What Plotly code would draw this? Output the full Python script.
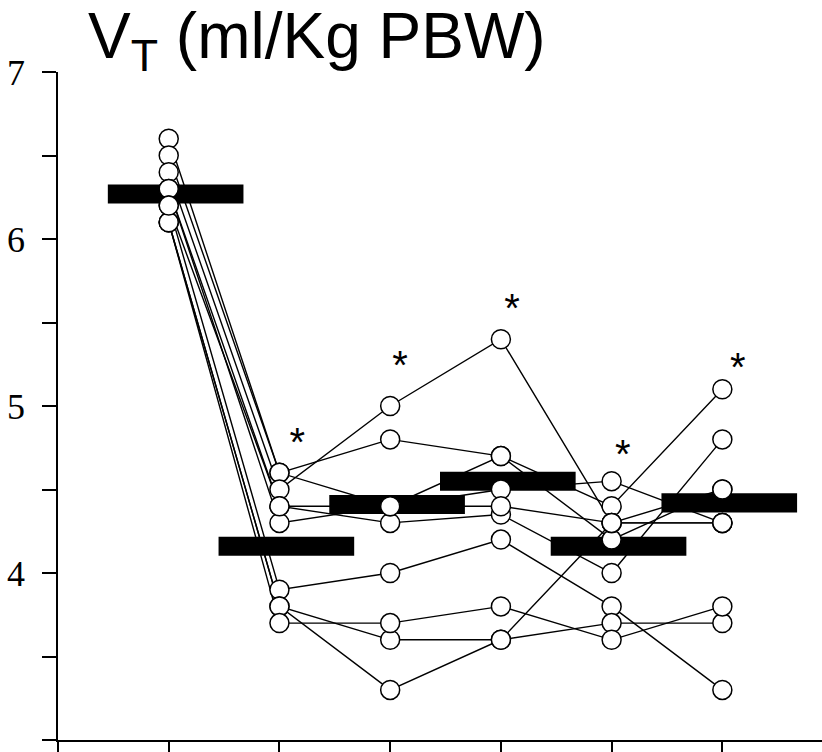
import plotly.graph_objects as go

# time points (x categories)
timepoints = [1, 2, 3, 4, 5, 6]

# individual subjects, V_T (ml/Kg PBW) at each time point
s01 = [6.6, 4.6, 4.8, 4.7, 4.4, 5.1]
s02 = [6.5, 4.6, 4.4, 4.5, 4.55, 4.3]
s03 = [6.4, 4.5, 5.0, 5.4, 4.3, 4.5]
s04 = [6.3, 4.4, 4.3, 4.35, 4.0, 4.8]
s05 = [6.3, 4.3, 4.4, 4.7, 4.2, 4.5]
s06 = [6.2, 3.9, 4.0, 4.2, 3.8, 3.3]
s07 = [6.1, 3.8, 3.6, 3.6, 4.3, 4.3]
s08 = [6.1, 3.8, 3.3, 3.6, 3.7, 3.7]
s09 = [6.1, 3.7, 3.7, 3.8, 3.6, 3.8]
s10 = [6.2, 4.4, 4.4, 4.4, 4.3, 4.3]
subjects = [s01, s02, s03, s04, s05, s06, s07, s08, s09, s10]

# group mean values (black bars)
means = [6.27, 4.16, 4.41, 4.55, 4.16, 4.42]

# significance marks
star_x = [2.16, 3.09, 4.10, 5.10, 6.14]
star_y = [4.76, 5.22, 5.56, 4.69, 5.21]
star_text = ["*", "*", "*", "*", "*"]

fig = go.Figure()

# subject lines
for s in subjects:
    fig.add_trace(go.Scatter(x=timepoints, y=s, mode="lines",
                             line=dict(color="black", width=1.4),
                             hoverinfo="skip", showlegend=False))

# mean bars as filled rectangles
half_h = 0.057
for t, m in zip(timepoints, means):
    x0, x1 = t - 0.55, t + 0.675
    fig.add_trace(go.Scatter(x=[x0, x1, x1, x0, x0],
                             y=[m - half_h, m - half_h, m + half_h, m + half_h, m - half_h],
                             mode="lines", fill="toself", fillcolor="black",
                             line=dict(color="black", width=0),
                             hoverinfo="skip", showlegend=False))

# subject markers
for s in subjects:
    fig.add_trace(go.Scatter(x=timepoints, y=s, mode="markers",
                             marker=dict(symbol="circle", size=19, color="white",
                                         line=dict(color="black", width=1.5)),
                             hoverinfo="skip", showlegend=False))

# stars
fig.add_trace(go.Scatter(x=star_x, y=star_y, mode="text", text=star_text,
                         textposition="middle center",
                         textfont=dict(family="Liberation Sans, Arial", size=40, color="black"),
                         hoverinfo="skip", showlegend=False))

fig.add_annotation(text="V<sub>T</sub> (ml/Kg PBW)", xref="paper", yref="paper",
                   x=0.036, y=1.0, xanchor="left", yanchor="bottom", showarrow=False,
                   yshift=-10,
                   font=dict(family="Liberation Sans, Arial", size=64, color="black"))

fig.update_xaxes(range=[0, 6.9], tickvals=[0, 1, 2, 3, 4, 5, 6], showticklabels=False,
                 ticks="outside", ticklen=12, tickwidth=1.5, tickcolor="black",
                 showline=True, linecolor="black", linewidth=1.5,
                 showgrid=False, zeroline=False)
fig.update_yaxes(range=[3, 7], tickvals=[3, 4, 5, 6, 7], ticktext=["3", "4", "5", "6", "7"],
                 ticks="outside", ticklen=14, tickwidth=1.5, tickcolor="black",
                 minor=dict(tickvals=[3.5, 4.5, 5.5, 6.5], ticks="outside", ticklen=14,
                            tickwidth=1.5, tickcolor="black"),
                 ticklabelstandoff=10,
                 tickfont=dict(family="Liberation Serif, Times New Roman", size=36, color="black"),
                 showline=True, linecolor="black", linewidth=1.5,
                 showgrid=False, zeroline=False)

fig.update_layout(width=822, height=752, margin=dict(l=58, r=0, t=72, b=9),
                  plot_bgcolor="white", paper_bgcolor="white", showlegend=False)

fig.write_html("out.html")
